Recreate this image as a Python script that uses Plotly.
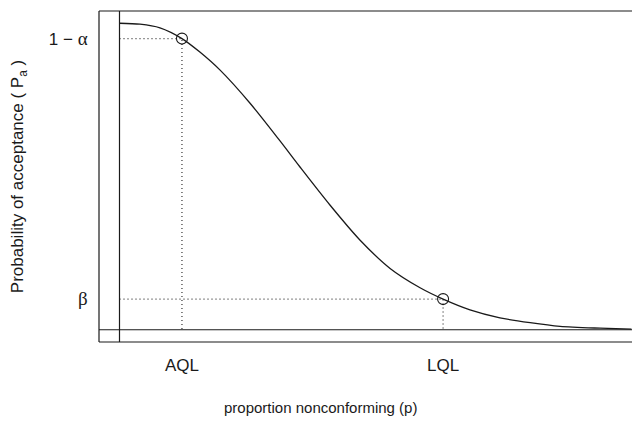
import plotly.graph_objects as go

# Operating characteristic curve
p_values = [0.0, 0.0080, 0.0158, 0.0244, 0.0314, 0.0393, 0.0510, 0.0627, 0.0705,
            0.0822, 0.0939, 0.1057, 0.1174, 0.1264, 0.1369, 0.1486, 0.1604,
            0.1721, 0.1877, 0.2000]
pa_values = [1.000, 0.997, 0.985, 0.950, 0.906, 0.847, 0.739, 0.616, 0.531,
             0.407, 0.293, 0.200, 0.137, 0.100, 0.065, 0.039, 0.023,
             0.011, 0.005, 0.002]

aql = 0.0244
lql = 0.1264
one_minus_alpha = 0.95
beta = 0.10

x_tick_vals = [aql, lql]
x_tick_text = ["AQL", "LQL"]
y_tick_vals = [one_minus_alpha, beta]
SERIF = "Liberation Serif"
y_tick_text = ["1 \u2212 <span style='font-family:%s;font-size:19px'>\u03b1</span>" % SERIF,
               "<span style='font-family:%s;font-size:19px'>\u03b2</span>" % SERIF]

FONT = "Liberation Sans, Arial, sans-serif"
INK = "#1a1a1a"
DOT = "#333333"

fig = go.Figure()

# dotted guide lines
fig.add_trace(go.Scatter(x=[0, aql, aql], y=[one_minus_alpha, one_minus_alpha, 0],
                         mode="lines", line=dict(color=DOT, width=1.2, dash="1px,3px"),
                         hoverinfo="skip", showlegend=False))
fig.add_trace(go.Scatter(x=[0, lql, lql], y=[beta, beta, 0],
                         mode="lines", line=dict(color=DOT, width=1.2, dash="1px,3px"),
                         hoverinfo="skip", showlegend=False))

# OC curve
fig.add_trace(go.Scatter(x=p_values, y=pa_values, mode="lines",
                         line=dict(color=INK, width=1.3, shape="spline", smoothing=0.8),
                         showlegend=False))

# marked points
fig.add_trace(go.Scatter(x=[aql, lql], y=[one_minus_alpha, beta], mode="markers",
                         marker=dict(symbol="circle-open", size=11, color=INK,
                                     line=dict(width=1.1, color=INK)),
                         showlegend=False))

# axes lines x=0, y=0
fig.add_hline(y=0, line=dict(color=INK, width=1.2))
fig.add_vline(x=0, line=dict(color=INK, width=1.2))

# box (right edge lies beyond the visible page)
box = dict(color=INK, width=1.2)
fig.add_shape(type="line", xref="paper", yref="paper", x0=0, x1=1.05, y0=1, y1=1, line=box)
fig.add_shape(type="line", xref="paper", yref="paper", x0=0, x1=1.05, y0=0, y1=0, line=box)
fig.add_shape(type="line", xref="paper", yref="paper", x0=0, x1=0, y0=0, y1=1, line=box)

fig.update_layout(
    width=632, height=422,
    margin=dict(l=91, r=0, t=3, b=88),
    paper_bgcolor="white", plot_bgcolor="white",
    font=dict(family=FONT, color=INK, size=17),
    xaxis=dict(range=[-0.008008, 0.20332], showgrid=False, zeroline=False, showline=False,
               tickmode="array", tickvals=x_tick_vals, ticktext=x_tick_text,
               ticks="outside", ticklen=8, tickcolor="rgba(0,0,0,0)",
               tickfont=dict(size=17)),
    yaxis=dict(range=[-0.04, 1.04], showgrid=False, zeroline=False, showline=False,
               tickmode="array", tickvals=y_tick_vals, ticktext=y_tick_text,
               ticks="outside", ticklen=7, tickcolor="rgba(0,0,0,0)",
               tickfont=dict(size=17),
               title=dict(text="Probability of acceptance ( P<sub>a</sub> )",
                          font=dict(size=17), standoff=20)),
    annotations=[dict(text="proportion nonconforming (p)", xref="paper", yref="paper",
                      x=(320 - 99) / 541, y=-(407 - 342) / 331, xanchor="center",
                      yanchor="middle", showarrow=False, font=dict(size=15))],
)

fig.write_html("out.html")
